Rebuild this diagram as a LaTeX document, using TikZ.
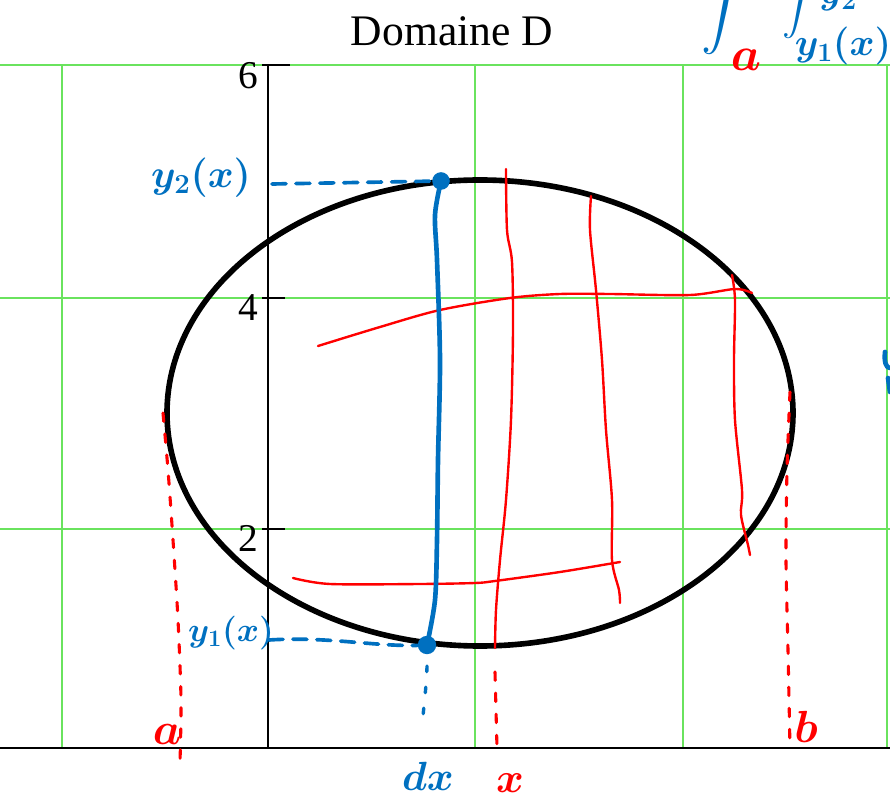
\RequirePackage{fix-cm}
\documentclass[tikz,border=0pt]{standalone}
\usepackage{fontspec}
\setmainfont{Liberation Serif}
\usepackage{amsmath}
\usetikzlibrary{positioning, calc}

\begin{document}
\begin{tikzpicture}[
    x=0.025cm, y=-0.025cm,
]
% ── Colours ──
\definecolor{gridg}{HTML}{6AE35E}
\definecolor{penblue}{HTML}{0070C0}
\definecolor{penred}{HTML}{FF0000}

% ── Styles ──
\tikzset{
    gridline/.style={draw=gridg, line width=1.5pt},
    axisline/.style={draw=black, line width=1.9pt, line cap=butt},
    domain-curve/.style={draw=black, line width=4pt},
    bluepen/.style={draw=penblue, line width=3.3pt, line join=round, line cap=round},
    bluedash/.style={draw=penblue, line width=2.6pt, line cap=round, dash pattern=on 10pt off 7pt},
    bluedots/.style={draw=penblue, line width=2.4pt, line cap=round, dash pattern=on 4pt off 11pt},
    redpen/.style={draw=penred, line width=1.7pt, line join=round, line cap=round},
    reddots/.style={draw=penred, line width=2.2pt, line cap=round, dash pattern=on 6pt off 9pt},
    ticklbl/.style={font=\fontsize{28}{32}\selectfont, anchor=north east, inner sep=0pt},
    bluelbl/.style={text=penblue, inner sep=0pt},
    redlbl/.style={text=penred, inner sep=0pt},
}

\useasboundingbox (0,0) rectangle (890,800);
\clip (0,0) rectangle (890,800);

% ── Grid ──
\foreach \gy in {65,298,529}
    \draw[gridline] (0,\gy) -- (890,\gy);
\foreach \gx in {62,475,683,887}
    \draw[gridline] (\gx,65) -- (\gx,748);

% ── Axes and ticks ──
\draw[axisline] (0,748) -- (890,748);
\draw[axisline] (268,65) -- (268,748);
\draw[axisline] (262,65) -- (290,65);
\node[ticklbl] (t6) at (258,62) {6};
\foreach \ty/\tl in {298/4, 529/2} {
    \draw[axisline] (262,\ty) -- (285,\ty);
    \node[ticklbl] (t\tl) at (258,\ty-4) {\tl};
}

% ── Title ──
\node[font=\fontsize{31}{36}\selectfont] (title) at (452,31) {Domaine D};

% ── Domain boundary ──
\draw[domain-curve] (480,413) ellipse [x radius=313, y radius=233];

% ── Red strips ──
\draw[redpen] plot[smooth, tension=0.5] coordinates
    {(506,169) (507,230) (512,262) (513,330) (511,420) (506,500) (500,560) (496,610) (495,648)};
\draw[redpen] plot[smooth, tension=0.5] coordinates
    {(591,196) (590,230) (596,290) (602,360) (606,430) (612,500) (612,560) (619,590) (620,603)};
\draw[redpen] plot[smooth, tension=0.5] coordinates
    {(732,275) (735,300) (734,360) (735,420) (742,490) (741,515) (748,545) (750,555)};
\draw[redpen] plot[smooth, tension=0.5] coordinates
    {(318,346) (380,327) (440,310) (510,298) (560,294) (610,294) (690,295) (735,289) (752,293)};
\draw[redpen] plot[smooth, tension=0.5] coordinates
    {(293,578) (330,584) (420,584) (475,583) (495,581) (560,572) (620,562)};

% ── Red bounds a, b, x ──
\node[redlbl, font=\fontsize{32}{32}\selectfont\boldmath, anchor=base] (lbla) at (167,744) {$a$};
\node[redlbl, font=\fontsize{32}{32}\selectfont\boldmath, anchor=base] (lblb) at (806,742) {$b$};
\node[redlbl, font=\fontsize{30}{30}\selectfont\boldmath, anchor=base] (lblx) at (510,792) {$x$};
\coordinate (atop) at (163,413);
\coordinate (abot) at (180,762);
\coordinate (btop) at (790,392);
\coordinate (bbot) at (790,748);
\coordinate (xtop) at (495,672);
\coordinate (xbot) at (497,748);
\draw[reddots] plot[smooth, tension=0.5] coordinates {(atop) (168,470) (173,540) (178,620) (181,700) (abot)};
\draw[reddots] plot[smooth, tension=0.5] coordinates {(btop) (787,470) (786,560) (788,650) (bbot)};
\draw[reddots] (xtop) -- (xbot);

% ── Blue slice at dx ──
\coordinate (y2pt) at (441,181);
\coordinate (y1pt) at (427,645);
\coordinate (y2ax) at (272,184);
\coordinate (y1ax) at (269,640);
\coordinate (dxend) at (422,728);
\draw[bluepen] plot[smooth, tension=0.5] coordinates
    {(y2pt) (435,215) (437,260) (440,360) (438,460) (437,540) (435,600) (y1pt)};
\fill[penblue] (y2pt) circle [radius=2.2mm];
\fill[penblue] (y1pt) circle [radius=2.3mm];
\draw[bluedash] (y2ax) -- (y2pt);
\draw[bluedash] (y1ax) .. controls (330,636) and (380,648) .. (y1pt);
\draw[bluedots] (y1pt) .. controls (428,680) and (424,700) .. (dxend);

\node[bluelbl, font=\fontsize{28}{32}\selectfont\boldmath] (lbly2) at (201,178) {$y_2(x)$};
\node[bluelbl, font=\fontsize{24}{28}\selectfont\boldmath] (lbly1) at (231,633) {$y_1(x)$};
\node[bluelbl, font=\fontsize{29}{29}\selectfont\boldmath, anchor=base] (lbldx) at (428,790) {$dx$};

% ── Integral (cut at the top) ──
\node[bluelbl, font=\normalsize] (int1) at (725,2) {\scalebox{3.4}{$\displaystyle\int$}};
\node[redlbl, font=\fontsize{34}{34}\selectfont\boldmath] (lbla2) at (746,60) {$a$};
\node[bluelbl, font=\normalsize] (int2) at (801,-2) {\scalebox{2.6}{$\displaystyle\int$}};
\node[bluelbl, font=\fontsize{27}{27}\selectfont\boldmath] (lbllow) at (843,46) {$y_1(x)$};
\node[bluelbl, font=\fontsize{27}{27}\selectfont\boldmath, anchor=base] (lblup) at (838,4) {$y_2$};

% ── Cut-off stroke at the right edge ──
\draw[bluepen] (885,352) .. controls (884,362) and (886,368) .. (890,368);
\draw[bluepen] (888,378) -- (890,392);

\end{tikzpicture}
\end{document}
